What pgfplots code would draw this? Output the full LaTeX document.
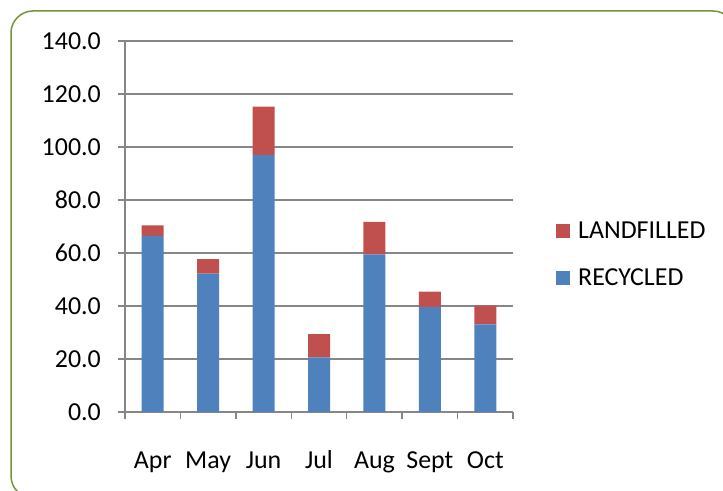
\documentclass[border=0pt]{standalone}
\usepackage{fontspec}
\setmainfont{Carlito}
\usepackage{pgfplots}
\pgfplotsset{compat=1.18}
\definecolor{recyc}{RGB}{79,129,189}
\definecolor{landf}{RGB}{192,80,77}
\definecolor{axgray}{RGB}{134,134,134}
\definecolor{framegreen}{RGB}{119,147,60}
\begin{document}
\begin{tikzpicture}[x=1bp,y=1bp]
\useasboundingbox (0,0) rectangle (723,491);
\draw[framegreen, line width=1.5bp, rounded corners=22bp] (11,-7) rectangle (735,480);
\begin{axis}[
  at={(125bp,79bp)}, anchor=south west,
  width=388bp, height=371bp, scale only axis,
  xmin=-0.5, xmax=6.5, ymin=0, ymax=140,
  ybar stacked, bar width=22bp,
  xtick={0,...,6}, xticklabels={Apr,May,Jun,Jul,Aug,Sept,Oct},
  minor xtick={-0.5,0.5,...,6.5},
  ytick={0,20,...,140},
  ymajorgrids, grid style={axgray, line width=1.4bp},
  axis x line*=bottom, axis y line*=left,
  axis line style={axgray, line width=1.5bp},
  every tick/.style={axgray, line width=1.5bp},
  major x tick style={draw=none},
  tick align=outside,
  major tick length=7bp, minor tick length=7bp,
  tick label style={font=\fontsize{26}{31}\selectfont},
  /pgf/number format/fixed, /pgf/number format/fixed zerofill,
  /pgf/number format/precision=1, /pgf/number format/assume math mode=true,
  xticklabel style={anchor=base, yshift=-50bp},
  yticklabel style={anchor=east, inner sep=0pt, xshift=-17bp},
  legend style={draw=none, fill=none, at={(1,0.4245)}, xshift=43bp, anchor=west,
    inner sep=0pt, row sep=28bp, font=\fontsize{26}{31}\selectfont,
    nodes={inner sep=0pt},
    /tikz/every odd column/.append style={column sep=8bp}},
  legend cell align=left,
  legend image code/.code={\fill[#1] (0bp,-7bp) rectangle (14bp,7bp);},
  reverse legend,
]
\addplot[fill=recyc, draw=none] coordinates {(0,66.5) (1,52.2) (2,96.9) (3,20.6) (4,59.5) (5,39.7) (6,33.1)};
\addlegendentry{RECYCLED}
\addplot[fill=landf, draw=none] coordinates {(0,3.9) (1,5.5) (2,18.3) (3,8.8) (4,12.2) (5,5.7) (6,7.0)};
\addlegendentry{LANDFILLED}
\end{axis}
\end{tikzpicture}
\end{document}
